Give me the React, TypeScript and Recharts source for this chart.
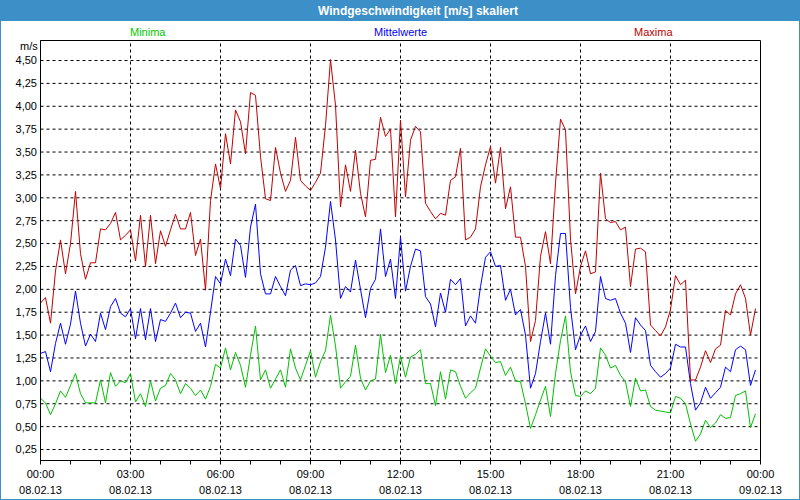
import { CartesianGrid, Line, LineChart, ReferenceArea, ReferenceLine, XAxis, YAxis } from "recharts";

// 10-minute values, 08.02.13 00:00 .. 23:50
const minima = [
  0.81, 0.76, 0.63, 0.75, 0.89, 0.82, 0.95, 1.08, 0.86, 0.76, 0.76, 0.76, 1.01, 0.76, 1.09, 0.94, 1.0, 0.98,
  1.08, 0.77, 0.86, 0.72, 1.0, 0.78, 0.92, 0.95, 1.08, 1.01, 0.86, 0.97, 0.92, 0.84, 0.9, 0.8, 0.94, 1.18,
  1.14, 1.36, 1.12, 1.31, 1.17, 0.93, 1.28, 1.6, 1.01, 1.12, 0.92, 1.02, 1.12, 0.93, 1.35, 1.14, 1.01, 1.17,
  1.33, 1.04, 1.21, 1.33, 1.72, 1.38, 0.92, 0.99, 1.05, 1.39, 1.03, 0.9, 1.0, 1.02, 1.51, 1.09, 1.28, 0.97,
  1.27, 1.04, 1.26, 1.29, 1.34, 0.97, 0.97, 0.73, 1.1, 0.8, 1.12, 1.1, 0.94, 0.81, 0.87, 0.92, 1.14, 1.35,
  1.27, 1.2, 1.21, 1.06, 1.15, 1.0, 0.99, 0.75, 0.48, 0.63, 0.79, 0.94, 0.61, 1.08, 1.44, 1.71, 1.1, 0.84,
  0.83, 0.89, 0.86, 0.92, 1.36, 1.28, 1.14, 1.17, 1.06, 0.99, 0.72, 1.03, 0.89, 0.9, 0.72, 0.68, 0.67, 0.66,
  0.65, 0.83, 0.81, 0.75, 0.53, 0.34, 0.42, 0.57, 0.49, 0.54, 0.63, 0.59, 0.6, 0.84, 0.86, 0.89, 0.49, 0.64,
];

const mittelwerte = [
  1.3, 1.32, 1.1, 1.41, 1.63, 1.4, 1.62, 1.98, 1.63, 1.38, 1.51, 1.43, 1.74, 1.56, 1.81, 1.9, 1.74, 1.7,
  1.79, 1.46, 1.79, 1.45, 1.79, 1.43, 1.67, 1.65, 1.74, 1.85, 1.69, 1.75, 1.74, 1.54, 1.63, 1.37, 1.75, 2.14,
  2.06, 2.33, 2.15, 2.55, 2.48, 2.13, 2.68, 2.93, 2.17, 1.95, 1.95, 2.14, 2.03, 1.93, 2.21, 2.26, 2.04, 2.06,
  2.05, 2.07, 2.14, 2.46, 2.96, 2.54, 1.9, 2.03, 1.97, 2.32, 2.0, 1.69, 2.01, 2.11, 2.66, 2.14, 2.33, 1.9,
  2.57, 1.98, 2.25, 2.44, 2.42, 1.92, 1.84, 1.59, 1.96, 1.75, 2.11, 2.05, 2.12, 1.6, 1.71, 1.63, 2.03, 2.35,
  2.41, 2.25, 2.26, 1.88, 2.0, 1.72, 1.78, 1.5, 0.92, 1.08, 1.43, 1.74, 1.4, 2.15, 2.61, 2.61, 1.8, 1.34,
  1.5, 1.6, 1.43, 1.54, 2.14, 1.9, 1.88, 1.9, 1.74, 1.63, 1.31, 1.69, 1.61, 1.55, 1.17, 1.1, 1.04, 1.08,
  1.14, 1.4, 1.37, 1.37, 0.97, 0.68, 0.76, 0.93, 0.81, 0.87, 0.93, 1.15, 1.1, 1.34, 1.38, 1.34, 0.95, 1.12,
];

const maxima = [
  1.85, 1.91, 1.63, 2.2, 2.54, 2.17, 2.5, 3.07, 2.39, 2.11, 2.29, 2.29, 2.66, 2.65, 2.72, 2.84, 2.54, 2.59,
  2.65, 2.31, 2.81, 2.25, 2.81, 2.28, 2.64, 2.47, 2.65, 2.82, 2.66, 2.66, 2.84, 2.37, 2.55, 1.99, 2.97, 3.37,
  3.1, 3.7, 3.37, 3.96, 3.83, 3.48, 4.15, 4.12, 3.45, 2.99, 2.97, 3.55, 3.27, 3.07, 3.19, 3.66, 3.19, 3.13,
  3.08, 3.17, 3.27, 3.79, 4.51, 4.01, 2.9, 3.36, 3.07, 3.52, 3.05, 2.79, 3.41, 3.42, 3.88, 3.67, 3.75, 2.79,
  3.85, 3.01, 3.63, 3.78, 3.72, 2.94, 2.85, 2.77, 2.83, 2.81, 3.19, 3.23, 3.54, 2.54, 2.57, 2.66, 3.12, 3.36,
  3.56, 3.16, 3.55, 2.88, 3.12, 2.57, 2.57, 2.25, 1.43, 1.66, 2.36, 2.63, 2.28, 3.16, 3.86, 3.74, 2.55, 1.95,
  2.25, 2.42, 2.17, 2.19, 3.27, 2.77, 2.73, 2.74, 2.65, 2.68, 2.03, 2.44, 2.45, 2.41, 1.61, 1.55, 1.49, 1.59,
  1.78, 2.15, 2.05, 2.1, 1.01, 1.01, 1.15, 1.33, 1.2, 1.35, 1.39, 1.77, 1.72, 1.95, 2.05, 1.9, 1.5, 1.79,
];

const hourTicks = [0, 1, 2, 3, 4, 5, 6, 7, 8, 9, 10, 11, 12, 13, 14, 15, 16, 17, 18, 19, 20, 21, 22, 23, 24];
const gridHours = [3, 6, 9, 12, 15, 18, 21];
const yTicks = [0.25, 0.5, 0.75, 1, 1.25, 1.5, 1.75, 2, 2.25, 2.5, 2.75, 3, 3.25, 3.5, 3.75, 4, 4.25, 4.5];

const data = maxima.map((max, i) => ({
  t: i / 6,
  min: minima[i],
  avg: mittelwerte[i],
  max,
}));

const FONT = "Tahoma, 'Liberation Sans', Arial, sans-serif";
const Y_MIN = 0.13;
const Y_MAX = 4.7185;

function TimeTick(props: any) {
  const { x, payload } = props;
  const h = payload.value as number;
  if (h % 3 !== 0) return null;
  const time = `${String(h % 24).padStart(2, "0")}:00`;
  const date = h === 24 ? "09.02.13" : "08.02.13";
  return (
    <g>
      <text x={x} y={477} textAnchor="middle" fill="#000" fontSize={11} fontFamily={FONT}>
        {time}
      </text>
      <text x={x} y={493} textAnchor="middle" fill="#000" fontSize={11} fontFamily={FONT}>
        {date}
      </text>
    </g>
  );
}

export default function App() {
  return (
    <div
      style={{
        position: "absolute",
        left: 0,
        top: 0,
        width: 800,
        height: 500,
        boxSizing: "border-box",
        border: "1px solid #3d8fc7",
        background: "#fff",
        overflow: "hidden",
        fontFamily: FONT,
      }}
    >
      <div style={{ position: "absolute", left: 0, top: 0 }}>
        <LineChart
          width={798}
          height={498}
          data={data}
          margin={{ top: 39.5, right: 38.5, bottom: 0, left: 0 }}
        >
          <CartesianGrid
            vertical={false}
            stroke="#000"
            strokeDasharray="3 3"
            horizontalValues={yTicks}
          />
          {gridHours.map((h) => (
            <ReferenceLine key={h} x={h} stroke="#000" strokeDasharray="3 3" />
          ))}
          <ReferenceArea
            x1={0}
            x2={24}
            y1={Y_MIN}
            y2={Y_MAX}
            fill="none"
            stroke="#000"
            strokeOpacity={1}
            ifOverflow="visible"
          />
          <XAxis
            type="number"
            dataKey="t"
            domain={[0, 24]}
            ticks={hourTicks}
            interval={0}
            height={38.5}
            tickSize={4}
            tickLine={{ stroke: "#000" }}
            axisLine={{ stroke: "#000" }}
            tick={<TimeTick />}
            allowDataOverflow
          />
          <YAxis
            type="number"
            domain={[Y_MIN, Y_MAX]}
            ticks={yTicks}
            interval={0}
            width={39.5}
            tickSize={0}
            tickMargin={3.5}
            tickLine={false}
            axisLine={{ stroke: "#000" }}
            tick={{ fill: "#000", fontSize: 11, fontFamily: FONT }}
            tickFormatter={(v: number) => v.toFixed(2).replace(".", ",")}
            allowDataOverflow
          />
          <Line
            type="linear"
            dataKey="min"
            stroke="#00c000"
            strokeWidth={1}
            dot={false}
            isAnimationActive={false}
          />
          <Line
            type="linear"
            dataKey="avg"
            stroke="#0000ff"
            strokeWidth={1}
            dot={false}
            isAnimationActive={false}
          />
          <Line
            type="linear"
            dataKey="max"
            stroke="#c00000"
            strokeWidth={1}
            dot={false}
            isAnimationActive={false}
          />
        </LineChart>
      </div>

      <div
        style={{
          position: "absolute",
          left: 0,
          top: 0,
          width: 798,
          height: 20,
          background: "#3d8fc7",
        }}
      />
      <div
        style={{
          position: "absolute",
          left: 317,
          top: 3,
          color: "#fff",
          fontWeight: "bold",
          fontSize: 12,
          whiteSpace: "nowrap",
        }}
      >
        Windgeschwindigkeit [m/s] skaliert
      </div>

      <div style={{ position: "absolute", left: 129, top: 25, fontSize: 11, color: "#00c800" }}>Minima</div>
      <div style={{ position: "absolute", left: 373, top: 25, fontSize: 11, color: "#0000ff" }}>Mittelwerte</div>
      <div style={{ position: "absolute", left: 633, top: 25, fontSize: 11, color: "#c00000" }}>Maxima</div>
      <div style={{ position: "absolute", left: 19, top: 39, fontSize: 11, color: "#000" }}>m/s</div>
    </div>
  );
}
